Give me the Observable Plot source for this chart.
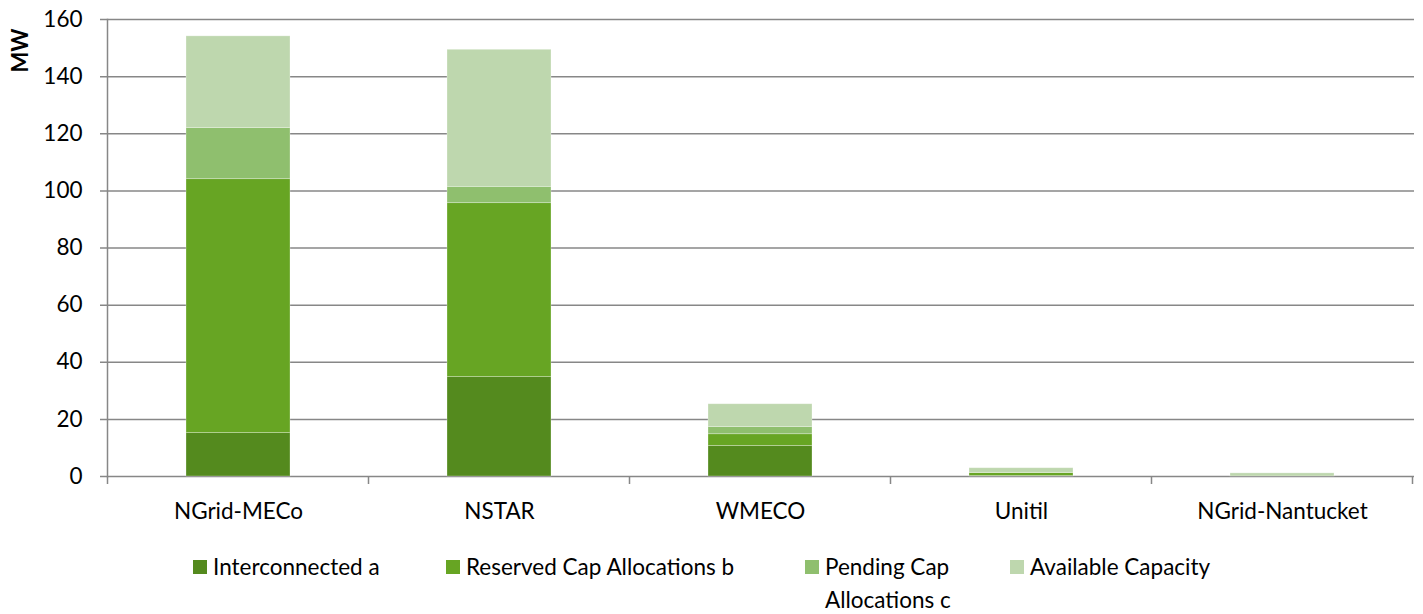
<!DOCTYPE html>
<html>
<head>
<meta charset="utf-8">
<script src="https://cdn.jsdelivr.net/npm/d3@7"></script>
<script src="https://cdn.jsdelivr.net/npm/@observablehq/plot@0.6"></script>
<style>
  html, body { margin: 0; padding: 0; background: #fff; }
  #wrap { position: relative; width: 1423px; height: 614px; font-family: Lato, "Open Sans", sans-serif; }
  .leg { position: absolute; display: flex; align-items: flex-start; font-size: 22.5px; color: #000; line-height: 33px; }
  .leg .sw { width: 14px; height: 14px; margin-right: 6px; margin-top: 10px; flex: none; }
</style>
</head>
<body>
<div id="wrap"></div>
<script>
const categories = ["NGrid-MECo", "NSTAR", "WMECO", "Unitil", "NGrid-Nantucket"];
const seriesNames = ["Interconnected a", "Reserved Cap Allocations b", "Pending Cap Allocations c", "Available Capacity"];
const seriesLegendLabels = ["Interconnected a", "Reserved Cap Allocations b", "Pending Cap Allocations c", "Available Capacity"];
const seriesColors = ["#548a1e", "#67a523", "#8fbf6e", "#bed7ae"];
const interconnected = [15.2, 34.8, 10.7, 0.2, 0.0];
const reserved = [88.9, 60.9, 4.1, 1.0, 0.0];
const pending = [17.9, 5.7, 2.5, 0.1, 0.0];
const available = [32.1, 48.0, 8.0, 1.6, 1.1];
const yTicks = [0, 20, 40, 60, 80, 100, 120, 140, 160];

const seriesValues = [interconnected, reserved, pending, available];
const rows = [];
seriesNames.forEach((s, si) => {
  categories.forEach((c, ci) => rows.push({category: c, series: s, value: seriesValues[si][ci]}));
});

const gridColor = "#878787";
const fontFam = "Lato, 'Open Sans', sans-serif";

const plot = Plot.plot({
  width: 1423,
  height: 540,
  marginLeft: 107,
  marginRight: 9,
  marginTop: 19,
  marginBottom: 64,
  style: {fontFamily: fontFam, fontSize: "22.5px", color: "#000", background: "#fff"},
  x: {domain: categories, paddingInner: 0.6, paddingOuter: 0.3, label: null},
  y: {domain: [0, 160], label: null},
  color: {domain: seriesNames, range: seriesColors},
  marks: [
    Plot.ruleY(yTicks, {stroke: gridColor, strokeWidth: 1.5, insetLeft: -7}),
    Plot.barY(rows, {x: "category", y: "value", fill: "series", stroke: "#ffffff", strokeOpacity: 0.35, strokeWidth: 0.8}),
    Plot.frame({anchor: "left", stroke: gridColor, strokeWidth: 1.5}),
    Plot.axisY(yTicks, {tickSize: 0, tickPadding: 25, fontSize: 22.5, label: null}),
    Plot.axisX({tickSize: 0, tickPadding: 27, fontSize: 22.5, label: null}),
    Plot.text(["MW"], {frameAnchor: "top-left", dx: -87, dy: 31, rotate: -90, fontWeight: "bold", fontSize: 22, textAnchor: "middle", lineAnchor: "middle"})
  ]
});

// category separators on the bottom axis, positioned from the plot's x scale
const xs = plot.scale("x");
const ys = plot.scale("y");
const gap = (xs.step - xs.bandwidth) / 2;
const sepX = categories.map(c => xs.apply(c) - gap);
sepX.push(xs.apply(categories[categories.length - 1]) + xs.bandwidth + gap);
const y0 = ys.apply(0);
d3.select(plot).append("g")
  .selectAll("line").data(sepX).join("line")
  .attr("x1", d => d).attr("x2", d => d)
  .attr("y1", y0).attr("y2", y0 + 8)
  .attr("stroke", gridColor).attr("stroke-width", 1.5);

const wrap = document.getElementById("wrap");
wrap.appendChild(plot);
plot.style.position = "absolute";
plot.style.left = "0px";
plot.style.top = "0px";

const legendPos = [
  {left: 193, width: 240},
  {left: 446, width: 350},
  {left: 805, width: 165},
  {left: 1010, width: 280}
];
seriesLegendLabels.forEach((lab, i) => {
  const d = document.createElement("div");
  d.className = "leg";
  d.style.left = legendPos[i].left + "px";
  d.style.top = "550px";
  d.style.width = legendPos[i].width + "px";
  const sw = document.createElement("div");
  sw.className = "sw";
  sw.style.background = seriesColors[i];
  const t = document.createElement("span");
  t.textContent = lab;
  d.appendChild(sw);
  d.appendChild(t);
  wrap.appendChild(d);
});
</script>
</body>
</html>
